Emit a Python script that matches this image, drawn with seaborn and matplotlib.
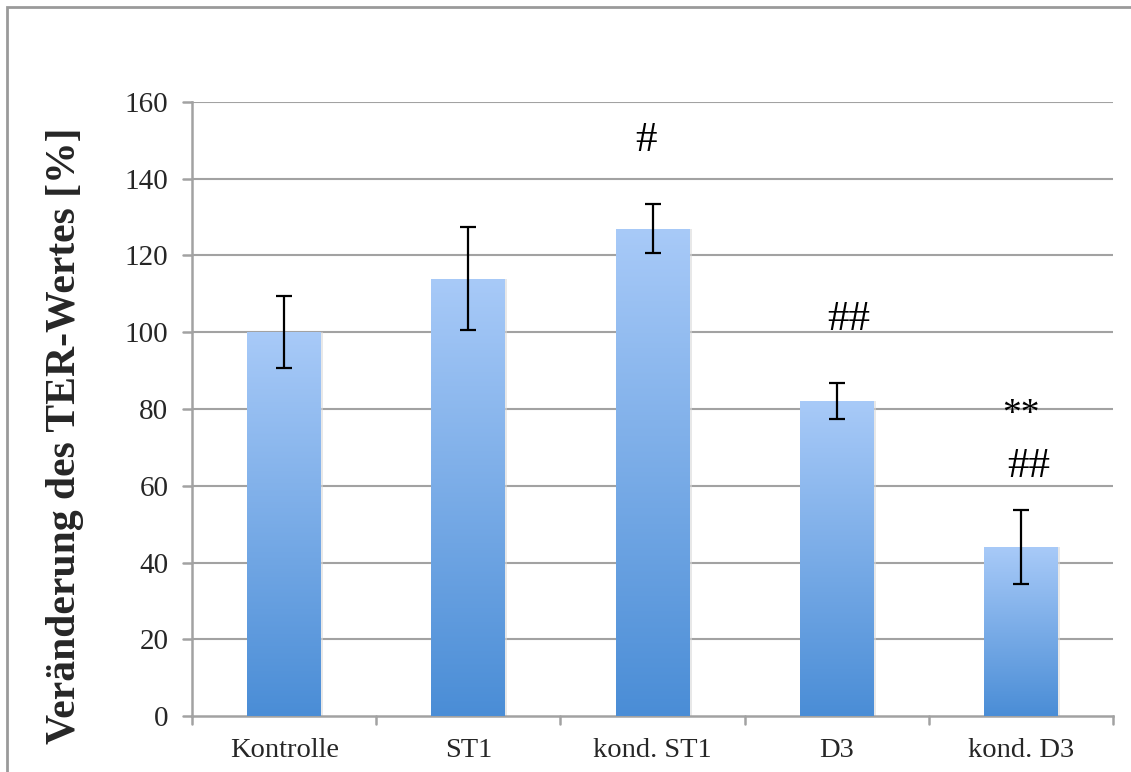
import numpy as np
import pandas as pd
import matplotlib
matplotlib.use("Agg")
import matplotlib.pyplot as plt
import seaborn as sns
from matplotlib.colors import LinearSegmentedColormap
from matplotlib.patches import Rectangle

# Mean change of TER value per group and its standard deviation
groups = ["Kontrolle", "ST1", "kond. ST1", "D3", "kond. D3"]
means = [100.0, 114.0, 127.0, 82.0, 44.0]
errors = [9.4, 13.5, 6.4, 4.7, 9.7]

# Significance marks: group index, baseline height, text, x offset, size
marks_group = [2, 3, 4, 4]
marks_y = [147.3, 100.6, 76.0, 62.2]
marks_text = ["#", "##", "**", "##"]
marks_dx = [-0.033, 0.065, 0.0, 0.045]
marks_size = [31, 31, 27, 31]

y_ticks = [0, 20, 40, 60, 80, 100, 120, 140, 160]

sns.set_theme(style="white")
plt.rcParams["font.family"] = ["Liberation Serif", "DejaVu Serif"]

grid_col = "#a2a2a2"

fig = plt.figure(figsize=(11.31, 7.72), dpi=100)
ax = fig.add_axes([0.1698, 0.0725, 0.8143, 0.7954])

df = pd.DataFrame({"group": groups, "mean": means})
sns.barplot(data=df, x="group", y="mean", order=groups, width=0.4,
            color="#6fa6e6", errorbar=None, ax=ax, zorder=2)

# vertical gradient fill for every bar (light at top, darker at base)
cmap = LinearSegmentedColormap.from_list("barfill", ["#4a8dd6", "#a8caf8"])
grad = np.linspace(0, 1, 256).reshape(-1, 1)
for p in ax.patches:
    x0, y0 = p.get_x(), p.get_y()
    w, h = p.get_width(), p.get_height()
    # faint shadow to the right of each bar
    ax.add_patch(Rectangle((x0 + w, y0), 0.012, h, facecolor="#d9d9d9",
                           edgecolor="none", alpha=0.6, zorder=2))
    im = ax.imshow(grad, cmap=cmap, aspect="auto", origin="lower",
                   extent=[x0, x0 + w, y0, y0 + h], zorder=3)
    im.set_clip_path(p)
    p.set_facecolor("none")
    p.set_edgecolor("none")

ax.errorbar(np.arange(len(groups)), means, yerr=errors, fmt="none",
            ecolor="black", elinewidth=1.6, capsize=6, capthick=1.6, zorder=4)

for gi, yy, txt, dx, fs in zip(marks_group, marks_y, marks_text, marks_dx,
                               marks_size):
    ax.text(gi + dx, yy, txt, ha="center", va="baseline", fontsize=fs,
            color="black", zorder=5)

ax.set_xlim(-0.5, len(groups) - 0.5)
ax.set_ylim(0, 160)
ax.set_yticks(y_ticks)
ax.set_yticklabels([str(t) for t in y_ticks], fontsize=21)
ax.set_xticks(np.arange(len(groups)))
ax.set_xticklabels(groups, fontsize=20.5)
ax.tick_params(axis="x", length=0, pad=16)
ax.tick_params(axis="y", length=0, pad=17)

# horizontal gridlines
for t in y_ticks[1:]:
    ax.axhline(t, color=grid_col, lw=1.5, zorder=1)
ax.set_xlabel("")
ax.set_ylabel("Veränderung des TER-Wertes [%]", fontsize=30,
              fontweight="bold", labelpad=29)
ax.yaxis.label.set_y(0.457)

for s in ["top", "right"]:
    ax.spines[s].set_visible(False)
for s in ["left", "bottom"]:
    ax.spines[s].set_color(grid_col)
    ax.spines[s].set_linewidth(1.8)

# category separator ticks below the x axis and tick marks left of the y axis
for b in np.arange(-0.5, len(groups), 1.0):
    ax.plot([b, b], [0, -2.0], color=grid_col, lw=1.8, clip_on=False, zorder=1)
for t in y_ticks:
    ax.plot([-0.5 - 0.05, -0.5], [t, t], color=grid_col, lw=1.8,
            clip_on=False, zorder=1)

# outer frame of the chart area
fig.add_artist(Rectangle((7 / 1131, -0.05), 1.2, 1 - 7 / 772 + 0.05,
                         transform=fig.transFigure, fill=False,
                         edgecolor="#9a9a9a", lw=2.0))

fig.savefig("out.png", dpi=100, facecolor="white")
